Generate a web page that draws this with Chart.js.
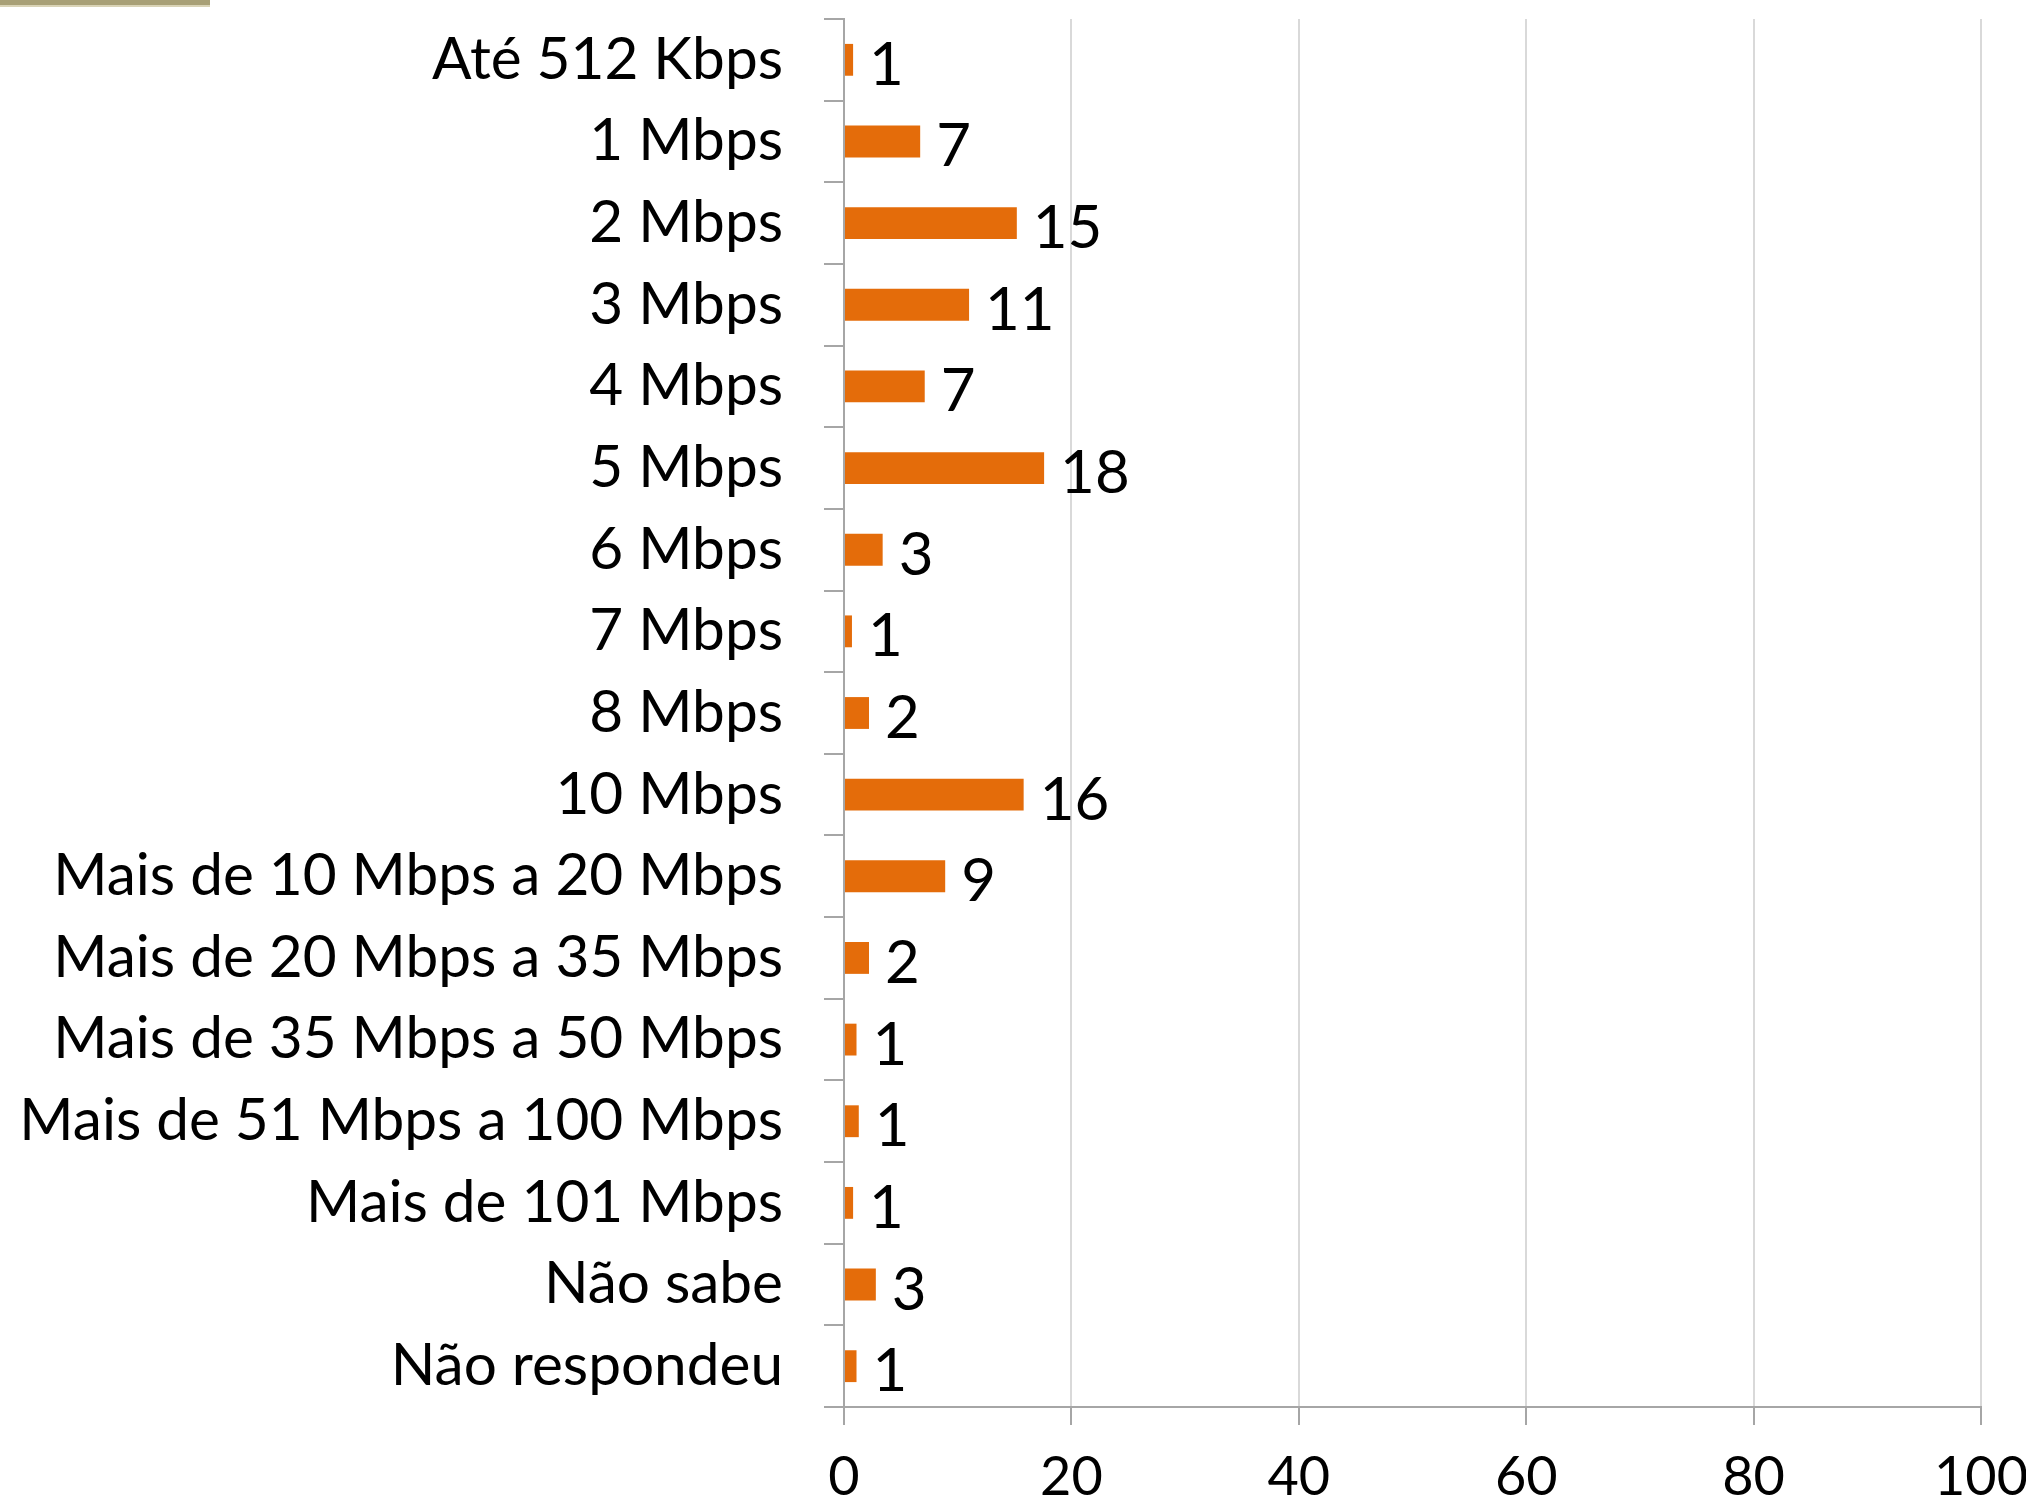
<!DOCTYPE html>
<html><head><meta charset="utf-8">
<script src="https://cdn.jsdelivr.net/npm/chart.js@4.4.1/dist/chart.umd.min.js"></script>
<style>
html,body{margin:0;padding:0;background:#fff;overflow:hidden}
#wrap{position:relative;width:2026px;height:1497px}
#deco{position:absolute;left:0;top:0;width:210px;height:5px;background:#a8a077;border-bottom:2px solid #d9d3b6}
</style></head><body>
<div id="wrap"><canvas id="c" width="2026" height="1497"></canvas><div id="deco"></div></div>
<script>
const categories = [
  "Até 512 Kbps", "1 Mbps", "2 Mbps", "3 Mbps", "4 Mbps", "5 Mbps", "6 Mbps",
  "7 Mbps", "8 Mbps", "10 Mbps", "Mais de 10 Mbps a 20 Mbps",
  "Mais de 20 Mbps a 35 Mbps", "Mais de 35 Mbps a 50 Mbps",
  "Mais de 51 Mbps a 100 Mbps", "Mais de 101 Mbps", "Não sabe", "Não respondeu"
];
const values = [0.8, 6.7, 15.2, 11.0, 7.1, 17.6, 3.4, 0.7, 2.2, 15.8, 8.9, 2.2, 1.1, 1.3, 0.8, 2.8, 1.1];
const valueLabels = [1, 7, 15, 11, 7, 18, 3, 1, 2, 16, 9, 2, 1, 1, 1, 3, 1];
const xTicks = [0, 20, 40, 60, 80, 100];

const FONT = "Lato";
const FSIZE = 58.5;
const LSIZE = 60;
const XSIZE = 54;

const valueLabelPlugin = {
  id: "valueLabelPlugin",
  afterDatasetsDraw(chart) {
    const ctx = chart.ctx;
    const meta = chart.getDatasetMeta(0);
    ctx.save();
    ctx.font = LSIZE + "px " + FONT;
    ctx.fillStyle = "#000";
    ctx.textAlign = "left";
    ctx.textBaseline = "alphabetic";
    meta.data.forEach((bar, i) => {
      ctx.fillText(String(valueLabels[i]), bar.x + 16, bar.y + 25);
    });
    ctx.restore();
  }
};

new Chart(document.getElementById("c"), {
  type: "bar",
  data: {
    labels: categories,
    datasets: [{
      data: values,
      backgroundColor: "#E46C0A",
      borderWidth: 0,
      barPercentage: 0.39,
      categoryPercentage: 1.0
    }]
  },
  options: {
    indexAxis: "y",
    responsive: false,
    animation: false,
    devicePixelRatio: 1,
    layout: { padding: { left: 0, right: 45, top: 19, bottom: 0 } },
    plugins: { legend: { display: false }, tooltip: { enabled: false } },
    scales: {
      x: {
        min: 0, max: 100,
        afterBuildTicks(scale) { scale.ticks = xTicks.map(v => ({ value: v })); },
        afterFit(scale) {
          scale.height = 90;
          scale.paddingLeft = 0; scale.paddingRight = 0;
        },
        grid: { color: "#d9d9d9", lineWidth: 2, tickColor: "#a6a6a6", tickLength: 18, drawTicks: true },
        border: { display: true, color: "#a6a6a6", width: 2 },
        ticks: { color: "#000", font: { family: FONT, size: XSIZE }, padding: 20, maxRotation: 0 }
      },
      y: {
        afterFit(scale) {
          scale.width = 844;
          scale.paddingTop = 0; scale.paddingBottom = 0;
        },
        grid: { drawOnChartArea: false, drawTicks: true, tickLength: 20, tickColor: "#a6a6a6", lineWidth: 2, offset: true },
        border: { display: true, color: "#a6a6a6", width: 2 },
        ticks: { color: "#000", font: { family: FONT, size: FSIZE }, padding: 41, autoSkip: false }
      }
    }
  },
  plugins: [valueLabelPlugin]
});
</script>
</body></html>
